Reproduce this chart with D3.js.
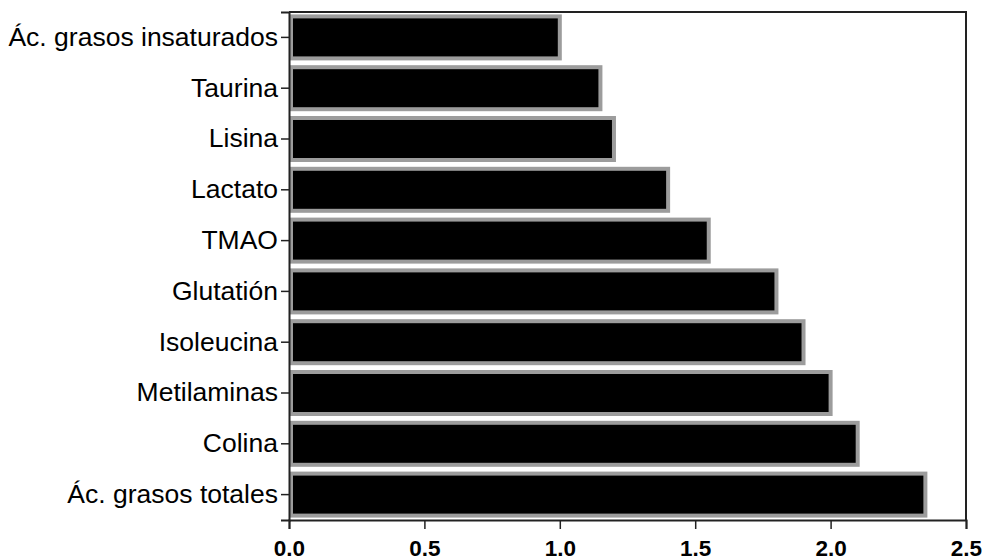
<!DOCTYPE html>
<html>
<head>
<meta charset="utf-8">
<script src="https://cdn.jsdelivr.net/npm/d3@7"></script>
<style>
  html, body { margin: 0; padding: 0; background: #fff; }
  svg { display: block; }
</style>
</head>
<body>
<svg id="chart" width="984" height="560"></svg>
<script>
// Metabolites, top to bottom
const categories = [
  "Ác. grasos insaturados", "Taurina", "Lisina", "Lactato", "TMAO",
  "Glutatión", "Isoleucina", "Metilaminas", "Colina", "Ác. grasos totales"
];
// Bar values
const values = [1.0, 1.15, 1.2, 1.4, 1.55, 1.8, 1.9, 2.0, 2.1, 2.35];
// X axis ticks
const xTicks = [0.0, 0.5, 1.0, 1.5, 2.0, 2.5];

const svg = d3.select("#chart");
const margin = { top: 12, right: 18, bottom: 40, left: 289 };
const W = 984, H = 560;
const innerW = W - margin.left - margin.right;
const innerH = H - margin.top - margin.bottom;

const g = svg.append("g").attr("transform", `translate(${margin.left},${margin.top})`);

const x = d3.scaleLinear().domain([0, 2.5]).range([0, innerW]);
const y = d3.scaleBand().domain(categories).range([0, innerH]).padding(0);

const data = categories.map((c, i) => ({ c, v: values[i] }));
const barH = 42; // rect height; stroke adds 2px on each side

// Bars
g.selectAll("rect.bar").data(data).join("rect")
  .attr("class", "bar")
  .attr("x", 2)
  .attr("y", d => y(d.c) + (y.bandwidth() - barH) / 2)
  .attr("width", d => x(d.v) - 2)
  .attr("height", barH)
  .attr("fill", "#000")
  .attr("stroke", "#9c9c9c")
  .attr("stroke-width", 4);

// Frame: top and right edges
g.append("path")
  .attr("d", `M0,0H${innerW}V${innerH}`)
  .attr("fill", "none")
  .attr("stroke", "#222")
  .attr("stroke-width", 2);

// X axis
const xAxis = g.append("g")
  .attr("transform", `translate(0,${innerH})`)
  .call(d3.axisBottom(x).tickValues(xTicks).tickFormat(d3.format(".1f")).tickSize(9).tickPadding(11));
xAxis.select(".domain").attr("stroke", "#222").attr("stroke-width", 2);
xAxis.selectAll(".tick line").attr("stroke", "#222").attr("stroke-width", 1.5);
xAxis.selectAll("text")
  .attr("font-family", "Liberation Sans, Arial, sans-serif")
  .attr("font-size", 22.5)
  .attr("font-weight", "bold")
  .attr("fill", "#000");

// Y axis
const yAxis = g.append("g")
  .call(d3.axisLeft(y).tickSize(8).tickPadding(3));
yAxis.select(".domain").attr("stroke", "#222").attr("stroke-width", 2);
yAxis.selectAll(".tick line").attr("stroke", "#222").attr("stroke-width", 1.5);
yAxis.selectAll("text")
  .attr("font-family", "Liberation Sans, Arial, sans-serif")
  .attr("font-size", 26.5)
  .attr("fill", "#000");
</script>
</body>
</html>
